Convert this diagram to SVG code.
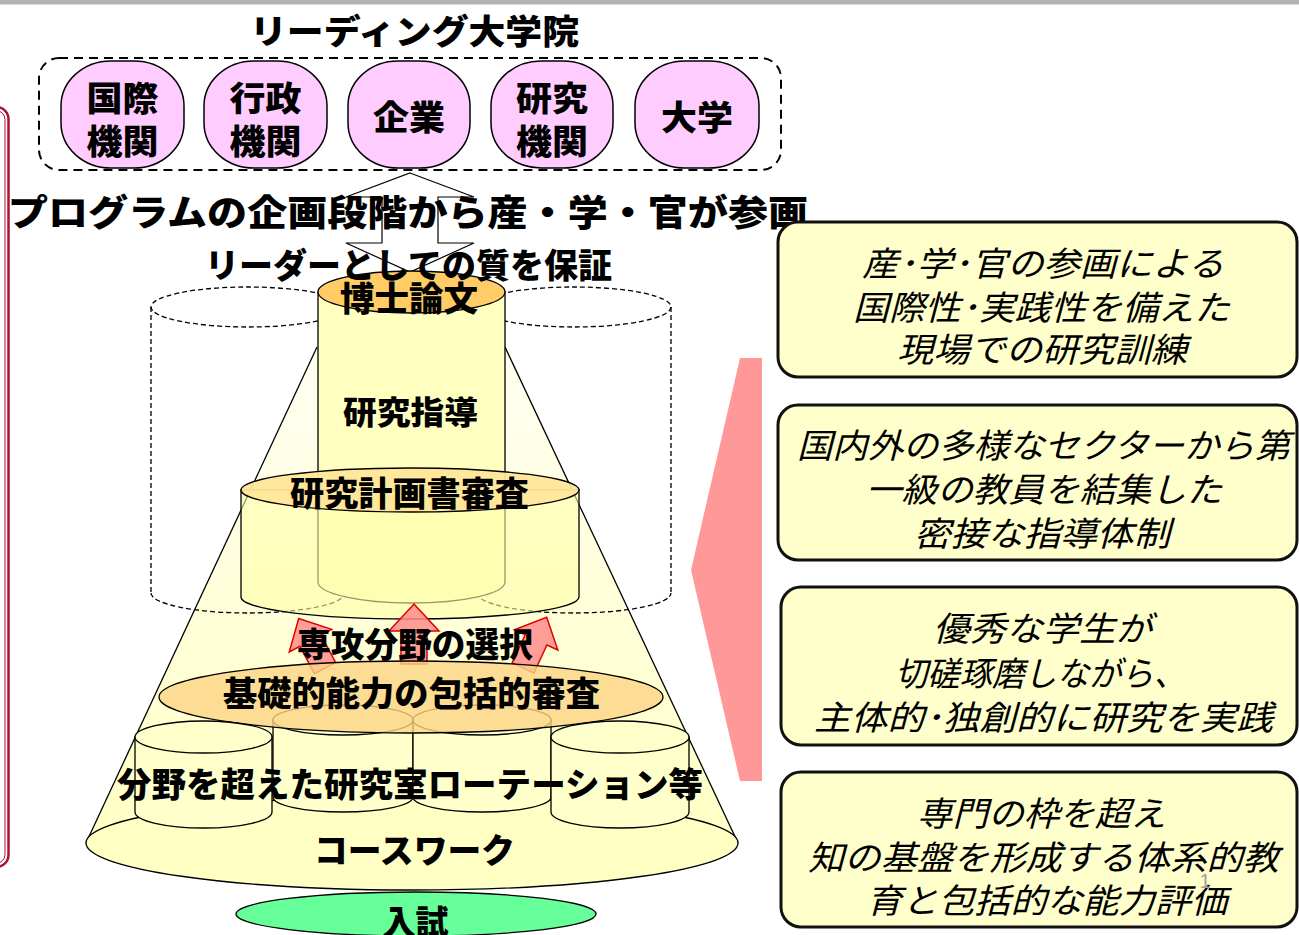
<svg xmlns="http://www.w3.org/2000/svg" width="1299" height="935" viewBox="0 0 1299 935">
<style>
.b{font-family:"Noto Sans CJK JP","Noto Sans CJK SC",sans-serif;font-weight:900;text-anchor:middle;fill:#000}
.i{font-family:"Noto Sans CJK JP","Noto Sans CJK SC",sans-serif;font-style:italic;font-weight:400;text-anchor:middle;fill:#000;font-size:34px}
.node{fill:#ffccff;stroke:#000;stroke-width:1.5}
.box{fill:#ffffcc;stroke:#111;stroke-width:3}
.dash{fill:none;stroke:#000;stroke-width:1.3;stroke-dasharray:5 3}
.ln{stroke:#000;stroke-width:1.3}
.arr{fill:#ff8c8c;fill-opacity:0.85;stroke:#e00000;stroke-width:1.5}
</style>
<defs>
<linearGradient id="cone" x1="0" y1="0" x2="0" y2="1">
<stop offset="0" stop-color="#fffff2"/>
<stop offset="1" stop-color="#ffffc4"/>
</linearGradient>
</defs>
<rect width="1299" height="935" fill="#fff"/>
<rect x="0" y="0" width="1299" height="4.5" fill="#b3b3b3"/>
<g id="left-frame">
<rect x="-30" y="107" width="38.5" height="760" rx="12" fill="none" stroke="#b01035" stroke-width="2.5"/>
<rect x="-30" y="110.5" width="35" height="753" rx="9" fill="none" stroke="#b01035" stroke-width="1"/>
</g>
<text class="b" x="414.5" y="44" font-size="34" textLength="329" lengthAdjust="spacingAndGlyphs">リーディング大学院</text>
<g id="partners">
<rect x="39" y="58" width="742" height="112" rx="20" fill="none" stroke="#000" stroke-width="2" stroke-dasharray="9 6"/>
<g id="n1"><rect class="node" x="61" y="61" width="123" height="107" rx="50" ry="45"/><text class="b" x="122.5" y="111" font-size="34" textLength="72" lengthAdjust="spacingAndGlyphs">国際</text><text class="b" x="122.5" y="154" font-size="34" textLength="72" lengthAdjust="spacingAndGlyphs">機関</text></g>
<g id="n2"><rect class="node" x="204" y="61" width="123" height="107" rx="50" ry="45"/><text class="b" x="265.5" y="111" font-size="34" textLength="72" lengthAdjust="spacingAndGlyphs">行政</text><text class="b" x="265.5" y="154" font-size="34" textLength="72" lengthAdjust="spacingAndGlyphs">機関</text></g>
<g id="n3"><rect class="node" x="348" y="61" width="122" height="107" rx="50" ry="45"/><text class="b" x="409" y="130" font-size="34" textLength="72" lengthAdjust="spacingAndGlyphs">企業</text></g>
<g id="n4"><rect class="node" x="491" y="61" width="122" height="107" rx="50" ry="45"/><text class="b" x="552" y="111" font-size="34" textLength="72" lengthAdjust="spacingAndGlyphs">研究</text><text class="b" x="552" y="154" font-size="34" textLength="72" lengthAdjust="spacingAndGlyphs">機関</text></g>
<g id="n5"><rect class="node" x="635" y="61" width="124" height="107" rx="50" ry="45"/><text class="b" x="697" y="130" font-size="34" textLength="72" lengthAdjust="spacingAndGlyphs">大学</text></g>
</g>
<g id="connectors">
<polygon points="410,173 474,197 438,197 438,243 474,243 410,272 346,243 382,243 382,197 346,197" fill="#fff" stroke="#000" stroke-width="1.2"/>
</g>
<g id="pyramid">
<path d="M317,347 L505,347 L738,843 L86,843 Z" fill="url(#cone)"/>
<line class="ln" x1="317" y1="347" x2="86" y2="843"/>
<line class="ln" x1="505" y1="347" x2="738" y2="843"/>
<ellipse cx="412" cy="843" rx="326" ry="47" fill="#ffffc4" stroke="#000" stroke-width="1.3"/>
<g id="dashed-cyl">
<ellipse class="dash" cx="248" cy="307" rx="97" ry="20"/>
<line class="dash" x1="151" y1="307" x2="151" y2="593"/>
<path class="dash" d="M151,593 A97,20 0 0 0 345,593"/>
<ellipse class="dash" cx="574" cy="307" rx="97" ry="20"/>
<line class="dash" x1="671" y1="307" x2="671" y2="593"/>
<path class="dash" d="M477,593 A97,20 0 0 0 671,593"/>
</g>
<g id="thesis">
<path d="M318,292 V582 A93.5,21 0 0 0 505,582 V292 Z" fill="#ffffc0" stroke="#000" stroke-width="1.3"/>
<ellipse cx="411.5" cy="292" rx="93.5" ry="21" fill="#ffcc66" stroke="#000" stroke-width="1.3"/>
<text class="b" x="409" y="311" font-size="34" textLength="138" lengthAdjust="spacingAndGlyphs">博士論文</text>
<text class="b" x="410.5" y="424" font-size="32" textLength="135" lengthAdjust="spacingAndGlyphs">研究指導</text>
</g>
<g id="plan">
<path d="M241,490 V597 A169,22 0 0 0 579,597 V490 Z" fill="#ffffa8" fill-opacity="0.6" stroke="#000" stroke-width="1.3"/>
<ellipse cx="410" cy="490" rx="169" ry="22" fill="#ffe699" fill-opacity="0.95" stroke="#000" stroke-width="1.3"/>
<text class="b" x="409.5" y="506" font-size="34" textLength="239" lengthAdjust="spacingAndGlyphs">研究計画書審査</text>
</g>
<g id="sel-arrows">
<path class="arr" d="M0,-60 L25,-33 L13,-33 L13,0 L-13,0 L-13,-33 L-25,-33 Z" transform="translate(414,664)"/>
<path class="arr" d="M0,-56 L24,-31 L12,-31 L12,0 L-12,0 L-12,-31 L-24,-31 Z" transform="translate(325,668) rotate(-28)"/>
<path class="arr" d="M0,-56 L24,-31 L12,-31 L12,0 L-12,0 L-12,-31 L-24,-31 Z" transform="translate(523,668) rotate(25)"/>
</g>
<text class="b" x="415" y="657" font-size="34" textLength="236" lengthAdjust="spacingAndGlyphs">専攻分野の選択</text>
<g id="rot-cyl-2">
<path d="M273,720 V797 A70,15 0 0 0 413,797 V720 Z" fill="#ffffcc" stroke="#000" stroke-width="1.3"/>
<ellipse cx="343" cy="720" rx="70" ry="15" fill="#ffffcc" stroke="#000" stroke-width="1.3"/>
</g>
<g id="rot-cyl-3">
<path d="M413,720 V797 A69,15 0 0 0 551,797 V720 Z" fill="#ffffcc" stroke="#000" stroke-width="1.3"/>
<ellipse cx="482" cy="720" rx="69" ry="15" fill="#ffffcc" stroke="#000" stroke-width="1.3"/>
</g>
<g id="basic">
<ellipse cx="411" cy="697" rx="252" ry="36" fill="#fdd584" fill-opacity="0.8" stroke="#000" stroke-width="1.3"/>
</g>
<g id="rot-cyl-1">
<path d="M135,737 V812 A68.5,16 0 0 0 272,812 V737 Z" fill="#ffffcc" stroke="#000" stroke-width="1.3"/>
<ellipse cx="203.5" cy="737" rx="68.5" ry="16" fill="#ffffcc" stroke="#000" stroke-width="1.3"/>
</g>
<g id="rot-cyl-4">
<path d="M551,737 V812 A69,16 0 0 0 689,812 V737 Z" fill="#ffffcc" stroke="#000" stroke-width="1.3"/>
<ellipse cx="620" cy="737" rx="69" ry="16" fill="#ffffcc" stroke="#000" stroke-width="1.3"/>
</g>
<text class="b" x="411.5" y="706" font-size="34" textLength="377" lengthAdjust="spacingAndGlyphs">基礎的能力の包括的審査</text>
<text class="b" x="410" y="797" font-size="34" textLength="586" lengthAdjust="spacingAndGlyphs">分野を超えた研究室ローテーション等</text>
<text class="b" x="414.5" y="863" font-size="34" textLength="201" lengthAdjust="spacingAndGlyphs">コースワーク</text>
</g>
<g id="entrance">
<ellipse cx="416" cy="914" rx="180" ry="22" fill="#66ff99" stroke="#000" stroke-width="1.3"/>
<text class="b" x="415.5" y="935" font-size="34" textLength="66" lengthAdjust="spacingAndGlyphs">入試</text>
</g>
<polygon id="chevron" points="740,358 762,358 762,781 740,781 691,570" fill="#ff9999"/>
<text class="b" x="408" y="226" font-size="36" textLength="800" lengthAdjust="spacingAndGlyphs">プログラムの企画段階から産・学・官が参画</text>
<text class="b" x="408.5" y="278" font-size="34" textLength="407" lengthAdjust="spacingAndGlyphs">リーダーとしての質を保証</text>
<g id="box1"><rect class="box" x="778" y="222" width="519" height="155" rx="20"/>
<text class="i" x="1043" y="276" textLength="362" lengthAdjust="spacingAndGlyphs">産･学･官の参画による</text>
<text class="i" x="1041.5" y="320" textLength="377" lengthAdjust="spacingAndGlyphs">国際性･実践性を備えた</text>
<text class="i" x="1042" y="362" textLength="290" lengthAdjust="spacingAndGlyphs">現場での研究訓練</text></g>
<g id="box2"><rect class="box" x="778" y="405" width="519" height="155" rx="20"/>
<text class="i" x="1043.5" y="458" textLength="493" lengthAdjust="spacingAndGlyphs">国内外の多様なセクターから第</text>
<text class="i" x="1044" y="502" textLength="356" lengthAdjust="spacingAndGlyphs">一級の教員を結集した</text>
<text class="i" x="1042" y="546" textLength="256" lengthAdjust="spacingAndGlyphs">密接な指導体制</text></g>
<g id="box3"><rect class="box" x="781" y="587" width="516" height="158" rx="20"/>
<text class="i" x="1042.5" y="641" textLength="219" lengthAdjust="spacingAndGlyphs">優秀な学生が</text>
<text class="i" x="1040.5" y="686" textLength="291" lengthAdjust="spacingAndGlyphs">切磋琢磨しながら、</text>
<text class="i" x="1043.5" y="730" textLength="459" lengthAdjust="spacingAndGlyphs">主体的･独創的に研究を実践</text></g>
<g id="box4"><rect class="box" x="781" y="772" width="516" height="155" rx="20"/>
<text class="i" x="1041.5" y="826" textLength="249" lengthAdjust="spacingAndGlyphs">専門の枠を超え</text>
<text class="i" x="1043.5" y="870" textLength="471" lengthAdjust="spacingAndGlyphs">知の基盤を形成する体系的教</text>
<text class="i" x="1046.5" y="913" textLength="361" lengthAdjust="spacingAndGlyphs">育と包括的な能力評価</text></g>
<text x="1205" y="888" font-family="Liberation Sans, sans-serif" font-size="20" fill="#a0a0a0" text-anchor="middle">1</text>
</svg>
